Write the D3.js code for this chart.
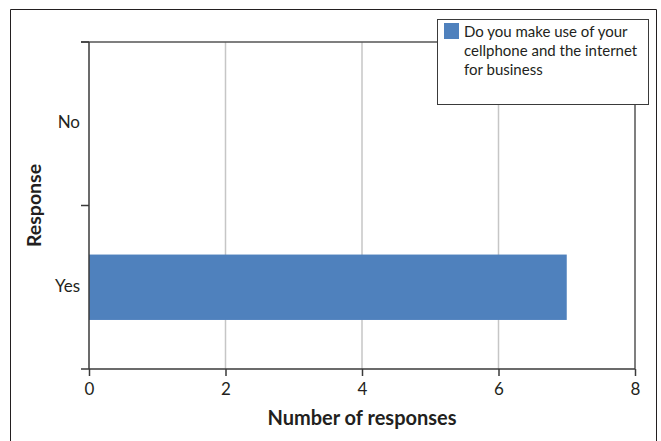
<!DOCTYPE html>
<html>
<head>
<meta charset="utf-8">
<script src="https://cdn.jsdelivr.net/npm/d3@7"></script>
<style>
  html, body { margin: 0; padding: 0; background: #fff; }
  svg { display: block; }
  text { font-family: Lato, "Open Sans", sans-serif; fill: #231f20; }
</style>
</head>
<body>
<svg id="chart" width="661" height="441"></svg>
<script>
// Survey responses
const categories = ["Yes", "No"];
const counts = [7, 0];
const xTicks = [0, 2, 4, 6, 8];
const seriesName = "Do you make use of your cellphone and the internet for business";
const legendLines = ["Do you make use of your", "cellphone and the internet", "for business"];

const svg = d3.select("#chart");
const W = 661, H = 441;
const margin = { left: 89, top: 42, right: W - 635, bottom: H - 369 };
const innerW = W - margin.left - margin.right;
const innerH = H - margin.top - margin.bottom;

// Outer frame (open at the bottom)
svg.append("path")
  .attr("d", `M10.5,${H} V9.5 H656.5 V${H}`)
  .attr("fill", "none").attr("stroke", "#231f20").attr("stroke-width", 1);

const g = svg.append("g").attr("transform", `translate(${margin.left},${margin.top})`);

const x = d3.scaleLinear().domain([0, 8]).range([0, innerW]);
const y = d3.scaleBand().domain(categories).range([innerH, 0]).paddingInner(0.6).paddingOuter(0.3);
const yBand = d3.scaleBand().domain(categories).range([innerH, 0]);

// Vertical gridlines
g.selectAll("line.grid").data(xTicks.filter(t => t > 0 && t < 8)).join("line")
  .attr("class", "grid")
  .attr("x1", d => x(d)).attr("x2", d => x(d))
  .attr("y1", 0).attr("y2", innerH)
  .attr("stroke", "#c6c6c6").attr("stroke-width", 1.5);

// Top and right plot borders
g.append("line").attr("x1", -8).attr("x2", innerW).attr("y1", 0).attr("y2", 0)
  .attr("stroke", "#555").attr("stroke-width", 1.5);
g.append("line").attr("x1", innerW).attr("x2", innerW).attr("y1", 0).attr("y2", innerH)
  .attr("stroke", "#555").attr("stroke-width", 1.5);

// Bars
g.selectAll("rect.bar").data(categories.map((c, i) => ({ c, v: counts[i] })).filter(d => d.v > 0)).join("rect")
  .attr("class", "bar")
  .attr("x", x(0)).attr("y", d => y(d.c))
  .attr("width", d => x(d.v) - x(0)).attr("height", y.bandwidth())
  .attr("fill", "#4f81bd");

// X axis
const xAxis = g.append("g").attr("transform", `translate(0,${innerH})`)
  .call(d3.axisBottom(x).tickValues(xTicks).tickSize(7).tickPadding(7).tickSizeOuter(0));
xAxis.select(".domain").remove();
xAxis.append("line").attr("x1", -8).attr("x2", innerW).attr("stroke", "#3a3a3a").attr("stroke-width", 1.5);
xAxis.selectAll(".tick line").attr("stroke", "#3a3a3a").attr("stroke-width", 1.5);
xAxis.selectAll(".tick text").style("font-size", "17px").attr("fill", "#231f20")
  .style("font-family", "Lato, 'Open Sans', sans-serif");

// Y axis: line with boundary ticks between categories, labels centred on bands
g.append("line").attr("x1", 0).attr("x2", 0).attr("y1", 0).attr("y2", innerH)
  .attr("stroke", "#3a3a3a").attr("stroke-width", 1.5);
const bounds = [0, ...categories.map(c => yBand(c))];
g.selectAll("line.ytick").data(Array.from(new Set(bounds))).join("line")
  .attr("class", "ytick")
  .attr("x1", -8).attr("x2", 0).attr("y1", d => d).attr("y2", d => d)
  .attr("stroke", "#3a3a3a").attr("stroke-width", 1.5);
g.selectAll("text.ylab").data(categories).join("text")
  .attr("class", "ylab")
  .attr("x", -9).attr("y", d => yBand(d) + yBand.bandwidth() / 2 - 2)
  .attr("text-anchor", "end").attr("dominant-baseline", "central")
  .style("font-size", "17px").text(d => d);

// Axis titles
svg.append("text").attr("x", margin.left + innerW / 2).attr("y", 425)
  .attr("text-anchor", "middle").style("font-size", "20px").style("font-weight", "bold")
  .text("Number of responses");
svg.append("text").attr("transform", `translate(41,${margin.top + innerH / 2}) rotate(-90)`)
  .attr("text-anchor", "middle").style("font-size", "19.5px").style("font-weight", "bold")
  .text("Response");

// Legend
const lg = svg.append("g").attr("transform", "translate(437,19)");
lg.append("rect").attr("x", 0.5).attr("y", 0.5).attr("width", 211).attr("height", 85)
  .attr("fill", "#fff").attr("stroke", "#3a3a3a").attr("stroke-width", 1);
lg.append("rect").attr("x", 7).attr("y", 4).attr("width", 15).attr("height", 16).attr("fill", "#4f81bd");
const lt = lg.append("text").attr("x", 27).attr("y", 18).style("font-size", "15px");
lt.append("title").text(seriesName);
legendLines.forEach((line, i) => {
  lt.append("tspan").attr("x", 27).attr("y", 18 + i * 19).text(line);
});
</script>
</body>
</html>
